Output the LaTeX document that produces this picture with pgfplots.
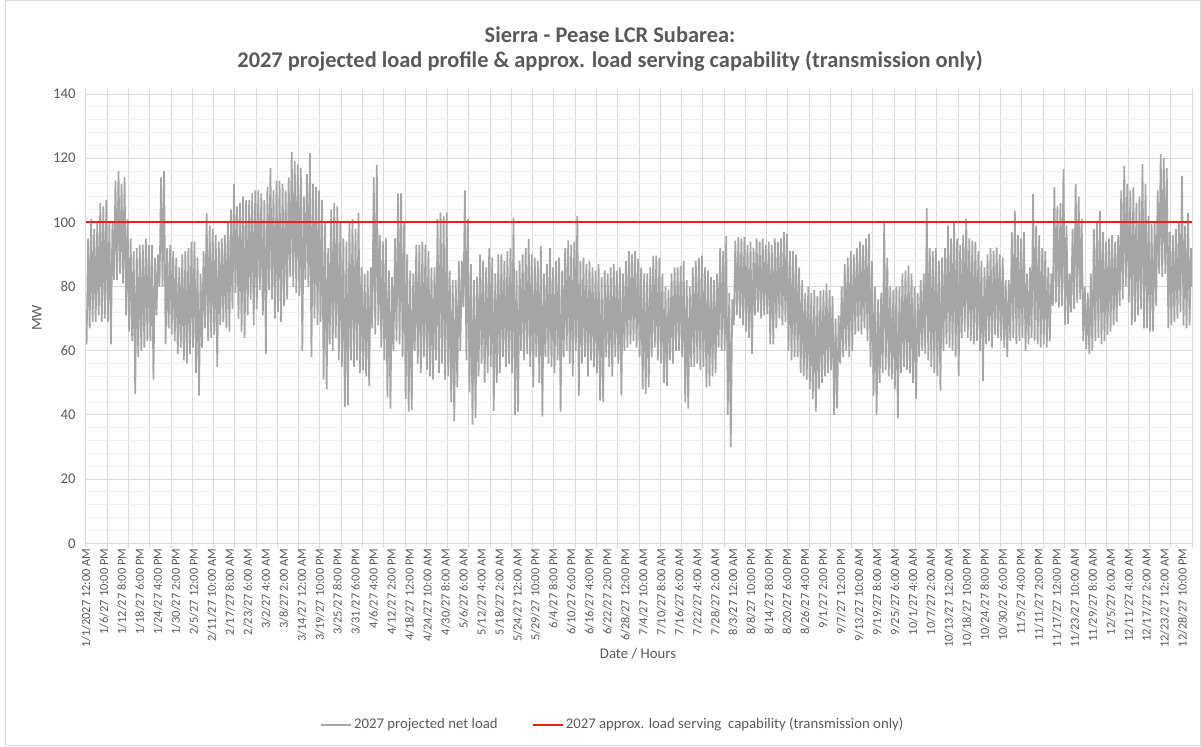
\documentclass[border=0pt]{standalone}
\usepackage{pgfplots}
\pgfplotsset{compat=1.18}
\usepackage{fontspec}
\setmainfont{Carlito}
\definecolor{labgray}{HTML}{595959}
\definecolor{serggray}{HTML}{A5A5A5}
\definecolor{gridmaj}{HTML}{D9D9D9}
\definecolor{gridmin}{HTML}{F0F0F0}
\definecolor{capred}{RGB}{232,32,32}
\newcommand{\tickfont}{\fontsize{7.4}{8.5}\selectfont}
\newcommand{\xtickfont}{\fontsize{6.2}{7}\selectfont}
\begin{document}
\begin{tikzpicture}
\useasboundingbox (0,0) rectangle (600.5pt,373pt);
\draw[gridmaj, line width=0.5pt] (2.5pt,0.5pt) rectangle (600pt,372.5pt);
\node[text=labgray, font=\bfseries\fontsize{11.2}{13}\selectfont] at (305pt,355.5pt) {Sierra - Pease LCR Subarea:};
\node[text=labgray, font=\bfseries\fontsize{11.2}{13}\selectfont] at (305pt,342.5pt) {2027 projected load profile \& approx. load serving capability (transmission only)};
\node[text=labgray, font=\tickfont, rotate=90] at (18.5pt,214pt) {MW};
\node[text=labgray, font=\tickfont] at (319pt,46pt) {Date / Hours};
\begin{axis}[
  at={(43pt,101.35pt)}, anchor=south west,
  scale only axis, width=553pt, height=224.65pt,
  xmin=0, xmax=364, ymin=0, ymax=140,
  ytick={0,20,...,140},
  minor y tick num=4,
  ymajorgrids, yminorgrids,
  major grid style={gridmaj, line width=0.5pt},
  minor grid style={gridmin, line width=0.5pt},
  axis line style={gridmaj, line width=0.5pt},
  ytick style={draw=none},
  minor tick length=0pt,
  yticklabel style={font=\tickfont, text=labgray, inner sep=0pt},
  yticklabel shift=5pt,
  /pgf/number format/assume math mode=true,
  xtick={0,7,...,364},
  xticklabels={},
  xmajorgrids,
  xtick align=outside,
  major tick length=2.5pt,
  xtick style={gridmaj, line width=0.5pt},
  extra x ticks={0,5.9166667,11.8333333,17.75,23.6666667,29.5833333,35.5,41.4166667,47.3333333,53.25,59.1666667,65.0833333,71,76.9166667,82.8333333,88.75,94.6666667,100.5833333,106.5,112.4166667,118.3333333,124.25,130.1666667,136.0833333,142,147.9166667,153.8333333,159.75,165.6666667,171.5833333,177.5,183.4166667,189.3333333,195.25,201.1666667,207.0833333,213,218.9166667,224.8333333,230.75,236.6666667,242.5833333,248.5,254.4166667,260.3333333,266.25,272.1666667,278.0833333,284,289.9166667,295.8333333,301.75,307.6666667,313.5833333,319.5,325.4166667,331.3333333,337.25,343.1666667,349.0833333,355,360.9166667},
  extra x tick labels={1/1/2027 12:00 AM,1/6/27 10:00 PM,1/12/27 8:00 PM,1/18/27 6:00 PM,1/24/27 4:00 PM,1/30/27 2:00 PM,2/5/27 12:00 PM,2/11/27 10:00 AM,2/17/27 8:00 AM,2/23/27 6:00 AM,3/2/27 4:00 AM,3/8/27 2:00 AM,3/14/27 12:00 AM,3/19/27 10:00 PM,3/25/27 8:00 PM,3/31/27 6:00 PM,4/6/27 4:00 PM,4/12/27 2:00 PM,4/18/27 12:00 PM,4/24/27 10:00 AM,4/30/27 8:00 AM,5/6/27 6:00 AM,5/12/27 4:00 AM,5/18/27 2:00 AM,5/24/27 12:00 AM,5/29/27 10:00 PM,6/4/27 8:00 PM,6/10/27 6:00 PM,6/16/27 4:00 PM,6/22/27 2:00 PM,6/28/27 12:00 PM,7/4/27 10:00 AM,7/10/27 8:00 AM,7/16/27 6:00 AM,7/22/27 4:00 AM,7/28/27 2:00 AM,8/3/27 12:00 AM,8/8/27 10:00 PM,8/14/27 8:00 PM,8/20/27 6:00 PM,8/26/27 4:00 PM,9/1/27 2:00 PM,9/7/27 12:00 PM,9/13/27 10:00 AM,9/19/27 8:00 AM,9/25/27 6:00 AM,10/1/27 4:00 AM,10/7/27 2:00 AM,10/13/27 12:00 AM,10/18/27 10:00 PM,10/24/27 8:00 PM,10/30/27 6:00 PM,11/5/27 4:00 PM,11/11/27 2:00 PM,11/17/27 12:00 PM,11/23/27 10:00 AM,11/29/27 8:00 AM,12/5/27 6:00 AM,12/11/27 4:00 AM,12/17/27 2:00 AM,12/23/27 12:00 AM,12/28/27 10:00 PM},
  extra x tick style={xmajorgrids=false, major tick length=0pt},
  xticklabel style={rotate=90, anchor=east, inner sep=0pt, font=\xtickfont, text=labgray},
  xticklabel shift=2.5pt,
  legend columns=2,
  legend style={at={(0.4764,-0.4044)}, anchor=center, draw=none, fill=none, font=\tickfont, text=labgray, inner sep=0pt,
    nodes={inner sep=1pt},
    /tikz/every even column/.append style={column sep=16pt}},
  legend image code/.code={\draw[#1] (0pt,0pt) -- (15pt,0pt);},
]
\addplot[serggray, line width=0.85pt] coordinates {
(0.2,62)(0.7,95)(1.2,67)(1.7,101)(2.2,69)(2.7,98)(3.2,69)(3.7,100)(4.2,71)(4.7,106)(5.2,69)(5.7,105)(6.2,70)(6.7,107)(7.2,69)(7.7,100)(8.2,62)(8.7,100)(9.2,82)(9.7,113)
(10.2,82)(10.7,116)(11.2,84)(11.7,112)(12.2,81)(12.7,114)(13.2,71)(13.7,101)(14.2,66)(14.7,95)(15.2,63)(15.7,91)(16.2,46.5)(16.7,92)(17.2,58)(17.7,93)(18.2,60)(18.7,93)(19.2,61)(19.7,95)
(20.2,63)(20.7,93)(21.2,63)(21.7,93)(22.2,51)(22.7,89)(23.2,71)(23.7,90)(24.2,80)(24.7,114)(25.2,80)(25.7,116)(26.2,62)(26.7,92)(27.2,67)(27.7,93)(28.2,65)(28.7,91)(29.2,63)(29.7,89)
(30.2,59)(30.7,86)(31.2,61)(31.7,90)(32.2,57)(32.7,91)(33.2,56)(33.7,92)(34.2,59)(34.7,94)(35.2,61)(35.7,94)(36.2,53)(36.7,89)(37.2,46)(37.7,84)(38.2,61)(38.7,91)(39.2,67)(39.7,103)
(40.2,63)(40.7,99)(41.2,64)(41.7,98)(42.2,65)(42.7,96)(43.2,55)(43.7,94)(44.2,68)(44.7,95)(45.2,69)(45.7,96)(46.2,67)(46.7,100)(47.2,66)(47.7,104)(48.2,73)(48.7,112)(49.2,78)(49.7,105)
(50.2,70)(50.7,106)(51.2,66)(51.7,108)(52.2,64)(52.7,107)(53.2,71)(53.7,107)(54.2,76)(54.7,109)(55.2,68)(55.7,110)(56.2,73)(56.7,110)(57.2,79)(57.7,109)(58.2,71)(58.7,107)(59.2,59)(59.7,111)
(60.2,79)(60.7,117)(61.2,76)(61.7,110)(62.2,70)(62.7,113)(63.2,72)(63.7,113)(64.2,69)(64.7,112)(65.2,74)(65.7,110)(66.2,76)(66.7,114)(67.2,83)(67.7,122)(68.2,80)(68.7,119)(69.2,78)(69.7,118)
(70.2,77)(70.7,117)(71.2,60)(71.7,108)(72.2,82)(72.7,115)(73.2,80)(73.7,121.5)(74.2,58)(74.7,112)(75.2,70)(75.7,111)(76.2,68)(76.7,110)(77.2,69)(77.7,107)(78.2,51)(78.7,100)(79.2,48)(79.7,92)
(80.2,62)(80.7,104)(81.2,60)(81.7,106)(82.2,64)(82.7,105)(83.2,57)(83.7,100)(84.2,55)(84.7,95)(85.2,42.4)(85.7,94)(86.2,43)(86.7,100)(87.2,57)(87.7,101)(88.2,55)(88.7,98)(89.2,57)(89.7,103)
(90.2,53)(90.7,86)(91.2,54)(91.7,84)(92.2,52)(92.7,85)(93.2,49)(93.7,86)(94.2,67)(94.7,114)(95.2,65)(95.7,118)(96.2,68)(96.7,96)(97.2,61)(97.7,94)(98.2,57)(98.7,95)(99.2,45.5)(99.7,85)
(100.2,42)(100.7,83)(101.2,60)(101.7,95)(102.2,63)(102.7,109)(103.2,62)(103.7,109)(104.2,58)(104.7,100)(105.2,45)(105.7,90)(106.2,41)(106.7,85)(107.2,41.5)(107.7,84)(108.2,60)(108.7,93)(109.2,56)(109.7,93)
(110.2,53)(110.7,94)(111.2,58)(111.7,93)(112.2,54)(112.7,91)(113.2,52)(113.7,86)(114.2,51)(114.7,86)(115.2,57)(115.7,101)(116.2,53)(116.7,103)(117.2,56)(117.7,102)(118.2,51)(118.7,103)(119.2,52)(119.7,85)
(120.2,44)(120.7,82)(121.2,38)(121.7,82)(122.2,48.6)(122.7,88)(123.2,60)(123.7,88)(124.2,73.5)(124.7,110)(125.2,57)(125.7,101)(126.2,47)(126.7,87)(127.2,37)(127.7,82)(128.2,39)(128.7,83)(129.2,52)(129.7,90)
(130.2,56)(130.7,88)(131.2,50)(131.7,86)(132.2,53)(132.7,92)(133.2,55)(133.7,89)(134.2,41.3)(134.7,84)(135.2,50)(135.7,90)(136.2,53)(136.7,90)(137.2,58)(137.7,88)(138.2,55)(138.7,91)(139.2,56)(139.7,92)
(140.2,53)(140.7,101.5)(141.2,40)(141.7,85)(142.2,41)(142.7,88)(143.2,60)(143.7,90)(144.2,57)(144.7,92)(145.2,59)(145.7,94.8)(146.2,55)(146.7,90)(147.2,48.6)(147.7,89)(148.2,58)(148.7,88)(149.2,50)(149.7,92.7)
(150.2,39.5)(150.7,84)(151.2,58)(151.7,87)(152.2,56)(152.7,92)(153.2,55)(153.7,86)(154.2,53)(154.7,88)(155.2,57)(155.7,89)(156.2,41)(156.7,85)(157.2,58)(157.7,92)(158.2,60)(158.7,94.3)(159.2,56)(159.7,93)
(160.2,52)(160.7,94)(161.2,60)(161.7,102)(162.2,46)(162.7,88)(163.2,56)(163.7,89)(164.2,58)(164.7,87)(165.2,52)(165.7,88)(166.2,57)(166.7,86)(167.2,55)(167.7,85)(168.2,53)(168.7,87)(169.2,44.5)(169.7,83)
(170.2,44)(170.7,85)(171.2,58)(171.7,84)(172.2,55)(172.7,86)(173.2,52)(173.7,87)(174.2,58)(174.7,85)(175.2,56)(175.7,86)(176.2,46)(176.7,84)(177.2,60)(177.7,88)(178.2,61)(178.7,91)(179.2,62)(179.7,90)
(180.2,63)(180.7,91)(181.2,61)(181.7,88.6)(182.2,58)(182.7,86)(183.2,48)(183.7,84)(184.2,46.5)(184.7,84)(185.2,48.6)(185.7,86)(186.2,58)(186.7,89.6)(187.2,61)(187.7,89.6)(188.2,57)(188.7,89)(189.2,56)(189.7,84)
(190.2,50)(190.7,80)(191.2,49)(191.7,79)(192.2,57)(192.7,84)(193.2,56)(193.7,86)(194.2,60)(194.7,86)(195.2,60)(195.7,86.5)(196.2,58)(196.7,88)(197.2,44)(197.7,82)(198.2,42)(198.7,80)(199.2,55)(199.7,86)
(200.2,55)(200.7,88)(201.2,56)(201.7,89)(202.2,54)(202.7,89.6)(203.2,55)(203.7,86)(204.2,48.6)(204.7,85)(205.2,49)(205.7,83)(206.2,52)(206.7,82)(207.2,53)(207.7,84)(208.2,61)(208.7,92)(209.2,60)(209.7,91)
(210.2,60)(210.7,95.8)(211.2,40)(211.7,78)(212.2,30)(212.7,76)(213.2,68)(213.7,94.3)(214.2,71)(214.7,95.5)(215.2,70)(215.7,95)(216.2,68)(216.7,95.5)(217.2,66)(217.7,93)(218.2,64)(218.7,94)(219.2,59)(219.7,92)
(220.2,71)(220.7,95)(221.2,72)(221.7,94)(222.2,70)(222.7,95)(223.2,71)(223.7,93)(224.2,71.5)(224.7,94)(225.2,62)(225.7,93)(226.2,62)(226.7,95)(227.2,67)(227.7,94)(228.2,70)(228.7,95)(229.2,68)(229.7,97)
(230.2,69)(230.7,96.5)(231.2,60)(231.7,91)(232.2,57)(232.7,91)(233.2,58)(233.7,90)(234.2,58)(234.7,86)(235.2,53)(235.7,82)(236.2,52)(236.7,78)(237.2,51)(237.7,80)(238.2,48)(238.7,78)(239.2,45)(239.7,79)
(240.2,41)(240.7,77)(241.2,48)(241.7,78.7)(242.2,50)(242.7,79)(243.2,52)(243.7,81)(244.2,53)(244.7,79)(245.2,54)(245.7,77)(246.2,40)(246.7,70)(247.2,42)(247.7,71)(248.2,56)(248.7,80)(249.2,58)(249.7,87)
(250.2,60)(250.7,89)(251.2,58)(251.7,91)(252.2,60)(252.7,90)(253.2,65)(253.7,92)(254.2,66)(254.7,94)(255.2,65)(255.7,93)(256.2,67)(256.7,95)(257.2,63)(257.7,96.4)(258.2,55)(258.7,88)(259.2,46)(259.7,80)
(260.2,40)(260.7,76)(261.2,50)(261.7,78)(262.2,53)(262.7,100.5)(263.2,54)(263.7,89)(264.2,52)(264.7,80)(265.2,51)(265.7,79)(266.2,48)(266.7,80)(267.2,39)(267.7,80)(268.2,53)(268.7,84)(269.2,55)(269.7,85)
(270.2,54)(270.7,86.5)(271.2,53)(271.7,84)(272.2,50)(272.7,80)(273.2,45)(273.7,78)(274.2,58)(274.7,82)(275.2,60)(275.7,84)(276.2,59)(276.7,104.4)(277.2,57)(277.7,92)(278.2,55)(278.7,91)(279.2,53)(279.7,92)
(280.2,52)(280.7,88)(281.2,47.6)(281.7,89)(282.2,60)(282.7,92)(283.2,62)(283.7,99)(284.2,61)(284.7,95)(285.2,60)(285.7,100.5)(286.2,58)(286.7,95)(287.2,52)(287.7,93)(288.2,64)(288.7,96)(289.2,66)(289.7,101.2)
(290.2,64)(290.7,95)(291.2,63)(291.7,94.3)(292.2,62)(292.7,94)(293.2,63)(293.7,91)(294.2,60)(294.7,88)(295.2,50.5)(295.7,86)(296.2,62)(296.7,90)(297.2,63)(297.7,92)(298.2,61)(298.7,91)(299.2,65)(299.7,92.2)
(300.2,64)(300.7,90)(301.2,63)(301.7,89)(302.2,61)(302.7,82)(303.2,58)(303.7,82)(304.2,63)(304.7,97)(305.2,64)(305.7,103.6)(306.2,62)(306.7,96)(307.2,63)(307.7,95)(308.2,64)(308.7,97)(309.2,60)(309.7,84)
(310.2,62)(310.7,86)(311.2,64)(311.7,108.8)(312.2,63)(312.7,99)(313.2,62)(313.7,96)(314.2,61)(314.7,92)(315.2,62)(315.7,91)(316.2,61)(316.7,86)(317.2,63)(317.7,84)(318.2,74)(318.7,111)(319.2,75)(319.7,105)
(320.2,73.5)(320.7,106)(321.2,74)(321.7,116.6)(322.2,68)(322.7,99)(323.2,68.3)(323.7,84)(324.2,72)(324.7,98)(325.2,73)(325.7,112)(326.2,75)(326.7,108)(327.2,76)(327.7,101)(328.2,63)(328.7,80)(329.2,60.5)(329.7,78)
(330.2,59)(330.7,84)(331.2,60)(331.7,98)(332.2,63)(332.7,100)(333.2,64)(333.7,103.6)(334.2,62)(334.7,97)(335.2,63)(335.7,94)(336.2,65)(336.7,95)(337.2,66)(337.7,96)(338.2,68)(338.7,94)(339.2,69)(339.7,96)
(340.2,74)(340.7,110)(341.2,76)(341.7,117.6)(342.2,80)(342.7,112)(343.2,75)(343.7,110)(344.2,68)(344.7,111)(345.2,69)(345.7,106)(346.2,71)(346.7,108)(347.2,73)(347.7,118.2)(348.2,67)(348.7,112)(349.2,67)(349.7,102)
(350.2,66)(350.7,99.5)(351.2,66)(351.7,100.5)(352.2,74)(352.7,110)(353.2,84)(353.7,121.3)(354.2,83)(354.7,120)(355.2,84)(355.7,117)(356.2,67)(356.7,97)(357.2,68)(357.7,96)(358.2,69)(358.7,98)(359.2,70)(359.7,100)
(360.2,72)(360.7,114.5)(361.2,68)(361.7,99)(362.2,67)(362.7,103)(363.2,68)(363.7,92)(364,80)
};
\addlegendentry{2027 projected net load}
\addplot[capred, line width=1pt] coordinates {(0,100) (364,100)};
\addlegendentry{2027 approx. load serving\ \ capability (transmission only)}
\end{axis}
\end{tikzpicture}
\end{document}
